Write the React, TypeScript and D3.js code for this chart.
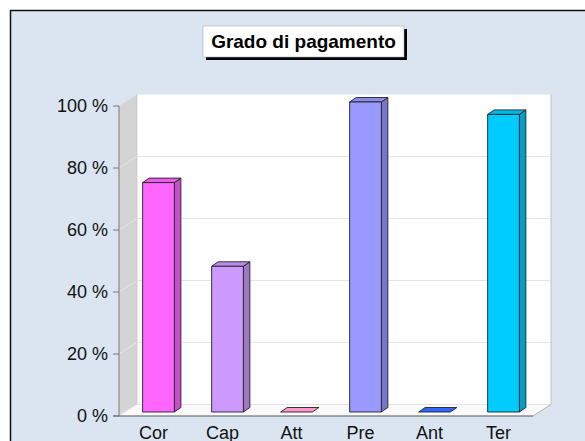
import React from 'react';
import * as d3 from 'd3';

// chart data
const categories = ['Cor', 'Cap', 'Att', 'Pre', 'Ant', 'Ter'];
const values = [74, 47, 0, 100, 0, 96];
const barColors = ['#ff66ff', '#cc99ff', '#ff99cc', '#9999ff', '#3366ff', '#00ccff'];
const yTicks = [0, 20, 40, 60, 80, 100];
const title = 'Grado di pagamento';

const W = 585;
const H = 441;
const font = '"Liberation Sans", Arial, sans-serif';

// front plane of the 3d box, plus depth offset
const x0 = 119, x1 = 533;
const yBottom = 416, yTop = 106;
const depthX = 18, depthY = -11.5;
// bars sit a bit inside the floor
const barOffX = 5, barOffY = -4;
const barDepthX = 6.5, barDepthY = -4.5;

export default function App() {
  const x = d3.scaleBand<string>().domain(categories).range([x0, x1]).paddingInner(0.54).paddingOuter(0.27);
  const xLabel = d3.scaleBand<string>().domain(categories).range([x0, x1]);
  const y = d3.scaleLinear().domain([0, 100]).range([yBottom, yTop]);

  const bx0 = x0 + depthX, bx1 = x1 + depthX;
  const pts = (p: number[][]) => p.map(d => d.join(',')).join(' ');

  return (
    <svg width={W} height={H} style={{ position: 'absolute', left: 0, top: 0, fontFamily: font }}>
      <rect x={0} y={0} width={W} height={H} fill="#fff" />
      <rect x={10} y={10} width={W - 10} height={H - 10} fill="#dbe5f1" />
      <line x1={10} y1={10.5} x2={W} y2={10.5} stroke="#111" strokeWidth={1.5} />
      <line x1={10.5} y1={10} x2={10.5} y2={H} stroke="#111" strokeWidth={1.5} />

      {/* title */}
      <rect x={206} y={29} width={201} height={31} fill="#000" />
      <rect x={203} y={26} width={201} height={31} fill="#fff" stroke="#aaa" strokeWidth={0.6} />
      <text x={303.5} y={41.5} dy="0.35em" textAnchor="middle" fontSize={19} fontWeight="bold" fill="#000">{title}</text>

      {/* back wall */}
      <rect x={bx0} y={y(100) + depthY} width={bx1 - bx0} height={y(0) - y(100)} fill="#fff" />
      {/* side wall */}
      <polygon points={pts([[x0, y(100)], [bx0, y(100) + depthY], [bx0, y(0) + depthY], [x0, y(0)]])} fill="#d4d4d4" />
      {/* floor */}
      <polygon points={pts([[x0, y(0)], [x1, y(0)], [bx1, y(0) + depthY], [bx0, y(0) + depthY]])} fill="#fafafa" />

      {yTicks.filter(t => t > 0 && t < 100).map(t => (
        <g key={'g' + t}>
          <line x1={bx0} x2={bx1} y1={y(t) + depthY} y2={y(t) + depthY} stroke="#e4e4e4" />
          <line x1={x0} x2={bx0} y1={y(t)} y2={y(t) + depthY} stroke="#e8e8e8" />
        </g>
      ))}
      <line x1={x0} x2={bx0} y1={y(0)} y2={y(0) + depthY} stroke="#eeeeee" />
      <line x1={bx0} x2={bx1} y1={y(0) + depthY} y2={y(0) + depthY} stroke="#e4e4e4" />
      <line x1={bx1} x2={bx1} y1={y(100) + depthY} y2={y(0) + depthY} stroke="#c4c4c4" />
      <line x1={x1} x2={bx1} y1={y(0)} y2={y(0) + depthY} stroke="#b0b0b0" />
      <line x1={bx0} x2={bx0} y1={y(100) + depthY} y2={y(0) + depthY} stroke="#bcbcbc" strokeWidth={0.6} />

      {/* bars */}
      {categories.map((c, i) => {
        const col = d3.color(barColors[i])!;
        const side = col.darker(0.7).formatHex();
        const top = col.darker(0.25).formatHex();
        const left = (x(c) as number) + barOffX;
        const right = left + x.bandwidth();
        const yb = y(0) + barOffY;
        const yt = y(values[i]) + barOffY;
        const stroke = { stroke: '#222', strokeWidth: 0.9, strokeLinejoin: 'round' as const };
        return (
          <g key={c}>
            {values[i] > 0 && (
              <polygon points={pts([[right, yb], [right + barDepthX, yb + barDepthY], [right + barDepthX, yt + barDepthY], [right, yt]])} fill={side} {...stroke} />
            )}
            <polygon points={pts([[left, yt], [left + barDepthX, yt + barDepthY], [right + barDepthX, yt + barDepthY], [right, yt]])} fill={values[i] > 0 ? top : barColors[i]} {...stroke} />
            {values[i] > 0 && (
              <rect x={left} y={yt} width={right - left} height={yb - yt} fill={barColors[i]} {...stroke} />
            )}
          </g>
        );
      })}

      {/* axes */}
      <line x1={x0} x2={x0} y1={y(100)} y2={y(0)} stroke="#7a7a7a" />
      <line x1={x0 - 6} x2={x1} y1={y(0)} y2={y(0)} stroke="#555" />
      {yTicks.map(t => (
        <g key={'t' + t}>
          <line x1={x0 - 6} x2={x0} y1={y(t)} y2={y(t)} stroke="#7a7a7a" />
          <text x={108} y={y(t)} dy="0.35em" textAnchor="end" fontSize={18} fill="#111">{t + ' %'}</text>
        </g>
      ))}
      {categories.map(c => (
        <text key={'l' + c} x={(xLabel(c) as number) + xLabel.bandwidth() / 2} y={438.5} textAnchor="middle" fontSize={18} fill="#111">{c}</text>
      ))}
    </svg>
  );
}
